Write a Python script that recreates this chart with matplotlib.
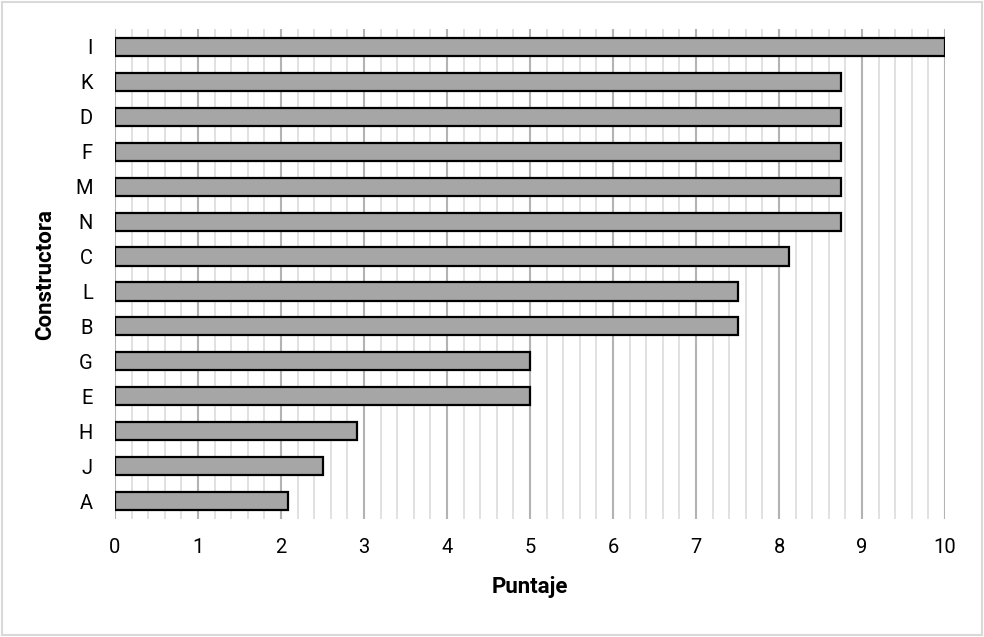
import matplotlib
matplotlib.use("Agg")
import matplotlib.pyplot as plt
from matplotlib.patches import Rectangle
from matplotlib.ticker import MultipleLocator

plt.rcParams['font.family'] = ['Liberation Sans Narrow', 'Roboto', 'DejaVu Sans']

# scores per builder, top to bottom
constructoras = ['I', 'K', 'D', 'F', 'M', 'N', 'C', 'L', 'B', 'G', 'E', 'H', 'J', 'A']
puntajes = [10, 8.75, 8.75, 8.75, 8.75, 8.75, 8.125, 7.5, 7.5, 5, 5, 2.917, 2.5, 2.083]

fig = plt.figure(figsize=(9.84, 6.37), dpi=100)
ax = fig.add_axes([0.1169, 0.186, 0.8435, 0.7677])

pos = list(range(len(constructoras)))[::-1]
ax.barh(pos, puntajes, height=0.52, color='#a6a6a6', edgecolor='black',
        linewidth=1.6, zorder=3)

ax.set_xlim(0, 10)
ax.set_ylim(-0.5, len(constructoras) - 0.5)
ax.set_yticks(pos)
ax.set_yticklabels(constructoras)
ax.xaxis.set_major_locator(MultipleLocator(1))
ax.xaxis.set_minor_locator(MultipleLocator(0.2))
ax.grid(axis='x', which='major', color='#b3b3b3', linewidth=1.5, zorder=0)
ax.grid(axis='x', which='minor', color='#dcdcdc', linewidth=1.2, zorder=0)
ax.tick_params(axis='both', which='both', length=0, labelsize=14.5, colors='black')
ax.tick_params(axis='y', pad=16)
ax.tick_params(axis='x', pad=14)
for s in ax.spines.values():
    s.set_visible(False)

ax.set_xlabel('Puntaje', fontsize=16, fontweight='bold', labelpad=14)
ax.set_ylabel('Constructora', fontsize=16, fontweight='bold', labelpad=14)

# light frame around the whole chart area
fig.patches.append(Rectangle((0.002, 0.003), 0.996, 0.994, transform=fig.transFigure,
                             fill=False, edgecolor='#d9d9d9', linewidth=1.5))

fig.savefig('out.png', dpi=100)
